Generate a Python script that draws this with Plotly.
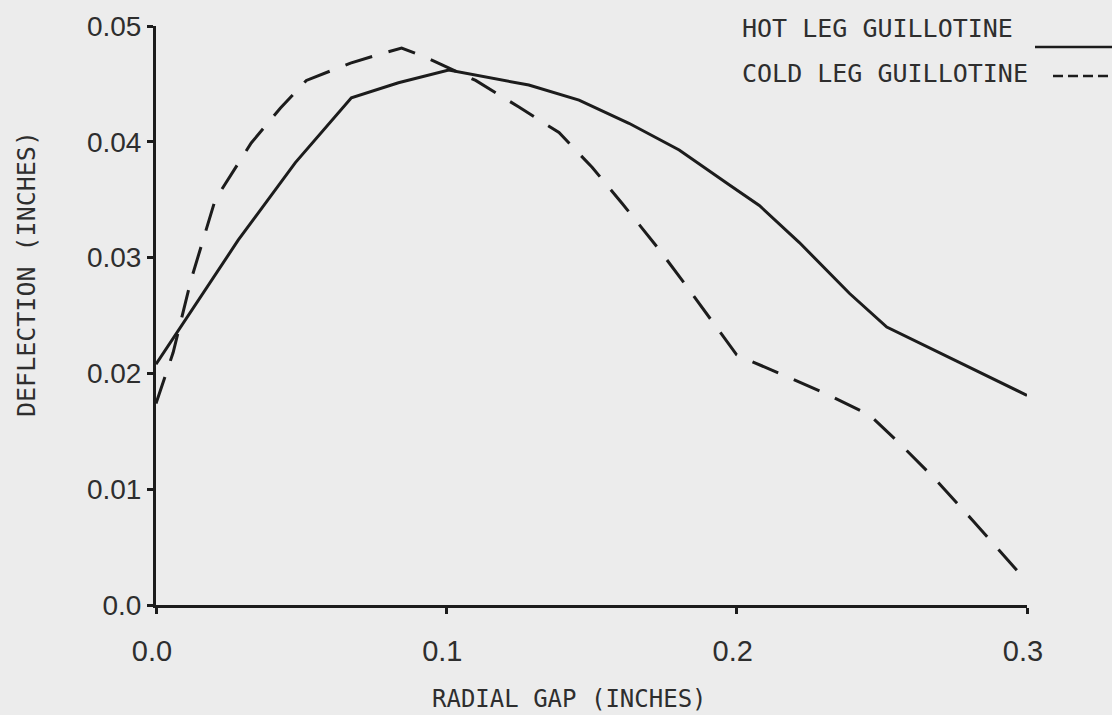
import plotly.graph_objects as go

# ---- data ----
hot_x = [0.0, 0.0283, 0.048, 0.0673, 0.0835, 0.1008, 0.1284, 0.1457, 0.1629,
         0.1802, 0.1974, 0.2078, 0.2216, 0.2389, 0.2517, 0.3]
hot_y = [0.0208, 0.0315, 0.0382, 0.0438, 0.0451, 0.0462, 0.0449, 0.0436, 0.0416,
         0.0393, 0.0363, 0.0345, 0.0313, 0.0269, 0.0240, 0.0181]

cold_x = [0.0, 0.0059, 0.0121, 0.0204, 0.0328, 0.0428, 0.0518, 0.067, 0.0749,
          0.0846, 0.0929, 0.1101, 0.125, 0.1388, 0.1502, 0.1605, 0.1733, 0.1837,
          0.2, 0.2147, 0.2303, 0.2458, 0.2551, 0.2675, 0.2813, 0.2965]
cold_y = [0.0174, 0.0218, 0.0281, 0.035, 0.0399, 0.0429, 0.0453, 0.0468, 0.0474,
          0.0481, 0.0473, 0.0453, 0.043, 0.0408, 0.0378, 0.0347, 0.0307, 0.0272,
          0.0216, 0.0200, 0.0183, 0.0164, 0.0142, 0.0111, 0.0073, 0.003]

x_ticks = [0.0, 0.1, 0.2, 0.3]
x_tick_labels = ["0.0", "0.1", "0.2", "0.3"]
y_ticks = [0.0, 0.01, 0.02, 0.03, 0.04, 0.05]
y_tick_labels = ["0.0", "0.01", "0.02", "0.03", "0.04", "0.05"]

series_names = ["HOT LEG GUILLOTINE", "COLD LEG GUILLOTINE"]
x_title = "RADIAL GAP (INCHES)"
y_title = "DEFLECTION (INCHES)"

# ---- layout constants ----
W, H = 1112, 715
L, R, T, B = 156, 85, 26, 110
PW, PH = W - L - R, H - T - B
BG = "#ececec"
INK = "#1c1c1c"
TXT = "#2e2e2e"
MONO = "DejaVu Sans Mono"
SANS = "Liberation Sans"


def px(xp):
    return (xp - L) / PW


def py(yp):
    return (H - B - yp) / PH


fig = go.Figure()
fig.add_trace(go.Scatter(x=hot_x, y=hot_y, mode="lines", name=series_names[0],
                         line=dict(color=INK, width=3), showlegend=False))
fig.add_trace(go.Scatter(x=cold_x, y=cold_y, mode="lines", name=series_names[1],
                         line=dict(color=INK, width=3, dash="28px,17px"),
                         showlegend=False))

fig.update_layout(
    width=W, height=H,
    margin=dict(l=L, r=R, t=T, b=B, pad=0),
    paper_bgcolor=BG, plot_bgcolor=BG,
    showlegend=False,
    xaxis=dict(range=[0, 0.3], tickvals=x_ticks, ticktext=x_tick_labels,
               showgrid=False, zeroline=False, showline=True, linecolor=INK,
               linewidth=3, ticks="outside", ticklen=6, tickwidth=3,
               tickcolor=INK, ticklabelstandoff=12, ticklabelshift=-4,
               tickfont=dict(family=SANS, size=29, color=TXT)),
    yaxis=dict(range=[0, 0.05], tickvals=y_ticks, ticktext=y_tick_labels,
               showgrid=False, zeroline=False, showline=True, linecolor=INK,
               linewidth=3, ticks="outside", ticklen=6, tickwidth=3,
               tickcolor=INK, ticklabelstandoff=0,
               tickfont=dict(family=SANS, size=28, color=TXT)),
)

# axis titles
fig.add_annotation(text=x_title, xref="paper", yref="paper", x=px(569), y=py(699),
                   xanchor="center", yanchor="middle", showarrow=False,
                   font=dict(family=MONO, size=24, color=TXT))
fig.add_annotation(text=y_title, xref="paper", yref="paper", x=px(26), y=py(274),
                   xanchor="center", yanchor="middle", showarrow=False,
                   textangle=-90, font=dict(family=MONO, size=25, color=TXT))

# legend text + line samples
fig.add_annotation(text=series_names[0], xref="paper", yref="paper", x=px(740),
                   y=py(28), xanchor="left", yanchor="middle", showarrow=False,
                   font=dict(family=MONO, size=25, color=TXT))
fig.add_annotation(text=series_names[1], xref="paper", yref="paper", x=px(740),
                   y=py(73), xanchor="left", yanchor="middle", showarrow=False,
                   font=dict(family=MONO, size=25, color=TXT))
fig.add_shape(type="line", xref="paper", yref="paper", x0=px(1035), x1=px(1112),
              y0=py(47), y1=py(47), line=dict(color=INK, width=2.5))
fig.add_shape(type="line", xref="paper", yref="paper", x0=px(1053), x1=px(1112),
              y0=py(76), y1=py(76), line=dict(color=INK, width=2.5, dash="10px,5px"))

fig.write_html(
    "out.html",
    config={"displayModeBar": False},
    post_script="document.body.style.margin='0';document.body.style.background='%s';" % BG,
)
